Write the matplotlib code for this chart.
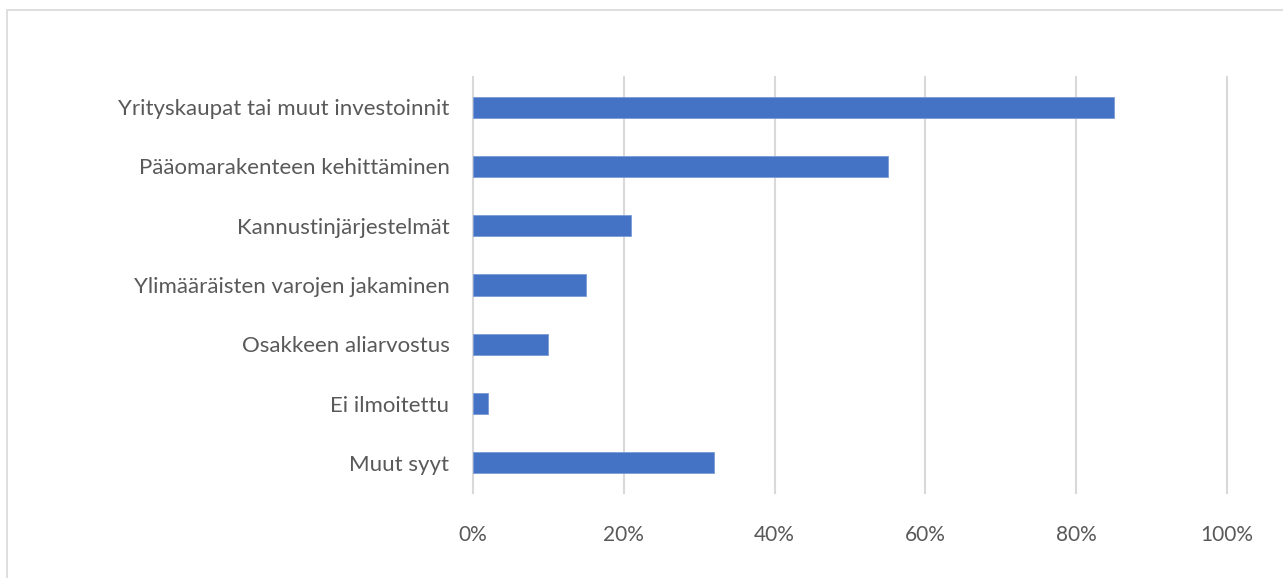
import matplotlib.pyplot as plt
from matplotlib.patches import Rectangle
from matplotlib.ticker import PercentFormatter

categories = [
    "Yrityskaupat tai muut investoinnit",
    "Pääomarakenteen kehittäminen",
    "Kannustinjärjestelmät",
    "Ylimääräisten varojen jakaminen",
    "Osakkeen aliarvostus",
    "Ei ilmoitettu",
    "Muut syyt",
]
shares = [85, 55, 21, 15, 10, 2, 32]
xticks = [0, 20, 40, 60, 80, 100]

plt.rcParams['font.family'] = ['Lato', 'DejaVu Sans']
text_col = '#595959'
grid_col = '#D9D9D9'

fig = plt.figure(figsize=(12.83, 5.78), dpi=100)
# chart area frame
fig.patches.append(Rectangle((7 / 1283, -0.1), 1.2, (578 - 10.5) / 578 + 0.1,
                             transform=fig.transFigure, fill=False,
                             edgecolor=grid_col, linewidth=1.2))

ax = fig.add_axes([473 / 1283, 85.4 / 578, 754 / 1283, 415.2 / 578])
ypos = list(range(len(categories)))
ax.barh(ypos, shares, height=0.355, color='#4472C4', edgecolor='#7A9BD6',
        linewidth=0.6, zorder=3)

ax.set_xlim(0, 100)
ax.set_ylim(len(categories) - 0.5, -0.5)
ax.set_xticks(xticks)
ax.xaxis.set_major_formatter(PercentFormatter(decimals=0))
ax.set_yticks(ypos)
ax.set_yticklabels(categories)
ax.grid(axis='x', color=grid_col, linewidth=1.5, zorder=0)
for gl in ax.get_xgridlines():
    gl.set_clip_on(False)
for s in ax.spines.values():
    s.set_visible(False)
ax.tick_params(axis='both', length=0, labelcolor=text_col)
ax.tick_params(axis='x', pad=23, labelsize=15)
ax.tick_params(axis='y', pad=17, labelsize=16)

fig.savefig('out.png', dpi=100)
